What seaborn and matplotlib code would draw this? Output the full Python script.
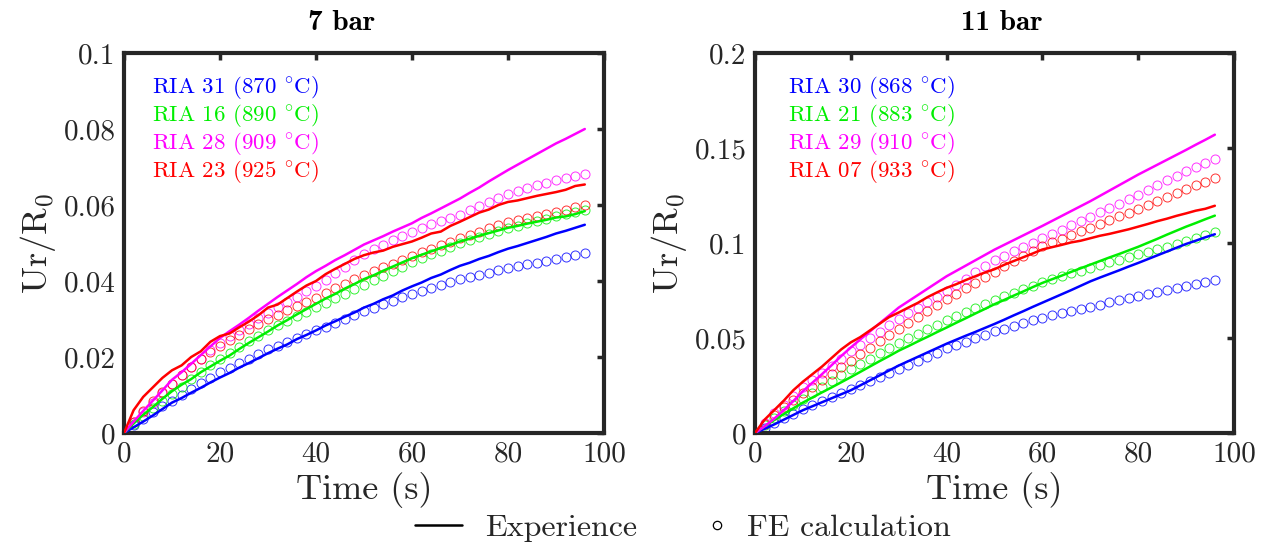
import matplotlib
matplotlib.use("Agg")
import matplotlib.pyplot as plt
from matplotlib.lines import Line2D
import seaborn as sns
import pandas as pd

# ---------------- data ----------------
time_s = [0, 2, 4, 6, 8, 10, 12, 14, 16, 18, 20, 22, 24, 26, 28, 30, 32, 34, 36, 38,
          40, 42, 44, 46, 48, 50, 52, 54, 56, 58, 60, 62, 64, 66, 68, 70, 72, 74, 76, 78,
          80, 82, 84, 86, 88, 90, 92, 94, 96]

colors = ["#0000ff", "#00ee00", "#ff00ff", "#ff0000"]

labels_7bar = ["RIA 31 (870 $^{\\circ}$C)", "RIA 16 (890 $^{\\circ}$C)",
               "RIA 28 (909 $^{\\circ}$C)", "RIA 23 (925 $^{\\circ}$C)"]
labels_11bar = ["RIA 30 (868 $^{\\circ}$C)", "RIA 21 (883 $^{\\circ}$C)",
                "RIA 29 (910 $^{\\circ}$C)", "RIA 07 (933 $^{\\circ}$C)"]

# 7 bar - experience (lines)
exp7_ria31 = [0, 0.0015, 0.0030, 0.0046, 0.0063, 0.0080, 0.0092, 0.0106, 0.0119, 0.0133, 0.0146,
              0.0158, 0.0172, 0.0184, 0.0197, 0.0210, 0.0222, 0.0233, 0.0247, 0.0258, 0.0270,
              0.0283, 0.0294, 0.0306, 0.0317, 0.0330, 0.0340, 0.0352, 0.0362, 0.0375, 0.0386,
              0.0396, 0.0408, 0.0417, 0.0429, 0.0440, 0.0448, 0.0458, 0.0466, 0.0476, 0.0485,
              0.0492, 0.0500, 0.0508, 0.0516, 0.0525, 0.0532, 0.0540, 0.0548]
exp7_ria16 = [0, 0.0025, 0.0048, 0.0068, 0.0090, 0.0110, 0.0127, 0.0142, 0.0160, 0.0175, 0.0190,
              0.0204, 0.0221, 0.0237, 0.0252, 0.0267, 0.0283, 0.0297, 0.0312, 0.0326, 0.0340,
              0.0354, 0.0366, 0.0380, 0.0392, 0.0405, 0.0415, 0.0427, 0.0438, 0.0449, 0.0460,
              0.0469, 0.0478, 0.0487, 0.0495, 0.0504, 0.0511, 0.0519, 0.0526, 0.0533, 0.0540,
              0.0545, 0.0551, 0.0556, 0.0561, 0.0567, 0.0570, 0.0576, 0.0584]
exp7_ria28 = [0, 0.0030, 0.0058, 0.0085, 0.0112, 0.0140, 0.0160, 0.0182, 0.0205, 0.0228, 0.0250,
              0.0268, 0.0285, 0.0303, 0.0322, 0.0340, 0.0358, 0.0375, 0.0392, 0.0410, 0.0426,
              0.0440, 0.0455, 0.0468, 0.0482, 0.0496, 0.0507, 0.0518, 0.0530, 0.0541, 0.0552,
              0.0566, 0.0578, 0.0591, 0.0604, 0.0617, 0.0632, 0.0646, 0.0662, 0.0677, 0.0692,
              0.0706, 0.0720, 0.0734, 0.0748, 0.0762, 0.0774, 0.0787, 0.0800]
exp7_ria23 = [0, 0.0060, 0.0095, 0.0120, 0.0145, 0.0165, 0.0178, 0.0200, 0.0215, 0.0240, 0.0255,
              0.0262, 0.0278, 0.0293, 0.0310, 0.0330, 0.0338, 0.0355, 0.0372, 0.0388, 0.0400,
              0.0418, 0.0432, 0.0445, 0.0458, 0.0468, 0.0475, 0.0480, 0.0490, 0.0497, 0.0504,
              0.0514, 0.0525, 0.0530, 0.0545, 0.0556, 0.0568, 0.0580, 0.0588, 0.0600, 0.0608,
              0.0612, 0.0618, 0.0624, 0.0629, 0.0634, 0.0640, 0.0650, 0.0654]

# 7 bar - FE calculation (circles)
fe7_ria31 = [0, 0.0020, 0.0038, 0.0054, 0.0070, 0.0085, 0.0101, 0.0117, 0.0132, 0.0146, 0.0160,
             0.0172, 0.0184, 0.0196, 0.0208, 0.0220, 0.0230, 0.0240, 0.0250, 0.0260, 0.0270,
             0.0280, 0.0290, 0.0300, 0.0310, 0.0320, 0.0329, 0.0339, 0.0348, 0.0357, 0.0366,
             0.0374, 0.0382, 0.0390, 0.0397, 0.0404, 0.0410, 0.0416, 0.0422, 0.0428, 0.0434,
             0.0439, 0.0444, 0.0448, 0.0453, 0.0457, 0.0462, 0.0468, 0.0473]
fe7_ria16 = [0, 0.0024, 0.0046, 0.0066, 0.0084, 0.0102, 0.0122, 0.0141, 0.0160, 0.0180, 0.0196,
             0.0211, 0.0226, 0.0241, 0.0256, 0.0270, 0.0283, 0.0295, 0.0307, 0.0319, 0.0331,
             0.0343, 0.0355, 0.0367, 0.0378, 0.0390, 0.0402, 0.0414, 0.0426, 0.0438, 0.0450,
             0.0460, 0.0470, 0.0480, 0.0490, 0.0500, 0.0508, 0.0516, 0.0524, 0.0532, 0.0540,
             0.0546, 0.0552, 0.0558, 0.0564, 0.0570, 0.0576, 0.0582, 0.0587]
fe7_ria28 = [0, 0.0028, 0.0055, 0.0080, 0.0105, 0.0130, 0.0152, 0.0175, 0.0196, 0.0218, 0.0238,
             0.0254, 0.0270, 0.0286, 0.0302, 0.0317, 0.0331, 0.0345, 0.0359, 0.0373, 0.0386,
             0.0403, 0.0420, 0.0437, 0.0454, 0.0470, 0.0483, 0.0496, 0.0508, 0.0519, 0.0530,
             0.0540, 0.0549, 0.0558, 0.0566, 0.0574, 0.0586, 0.0597, 0.0608, 0.0619, 0.0630,
             0.0638, 0.0645, 0.0652, 0.0659, 0.0666, 0.0671, 0.0677, 0.0682]
fe7_ria23 = [0, 0.0030, 0.0058, 0.0083, 0.0107, 0.0130, 0.0152, 0.0174, 0.0195, 0.0213, 0.0230,
             0.0245, 0.0259, 0.0273, 0.0287, 0.0300, 0.0311, 0.0323, 0.0334, 0.0345, 0.0356,
             0.0369, 0.0381, 0.0393, 0.0405, 0.0417, 0.0427, 0.0437, 0.0446, 0.0456, 0.0465,
             0.0475, 0.0484, 0.0494, 0.0503, 0.0513, 0.0522, 0.0530, 0.0539, 0.0547, 0.0556,
             0.0561, 0.0566, 0.0572, 0.0577, 0.0582, 0.0588, 0.0595, 0.0601]

# 11 bar - experience (lines)
exp11_ria30 = [0, 0.0022, 0.0045, 0.0070, 0.0095, 0.0120, 0.0141, 0.0162, 0.0183, 0.0204, 0.0225,
               0.0251, 0.0277, 0.0303, 0.0329, 0.0355, 0.0378, 0.0401, 0.0424, 0.0447, 0.0470,
               0.0491, 0.0512, 0.0532, 0.0553, 0.0574, 0.0596, 0.0619, 0.0641, 0.0664, 0.0686,
               0.0708, 0.0730, 0.0752, 0.0775, 0.0798, 0.0818, 0.0837, 0.0856, 0.0876, 0.0895,
               0.0915, 0.0935, 0.0955, 0.0975, 0.0995, 0.1012, 0.1030, 0.1046]
exp11_ria21 = [0, 0.0035, 0.0068, 0.0100, 0.0130, 0.0160, 0.0187, 0.0214, 0.0240, 0.0267, 0.0294,
               0.0322, 0.0350, 0.0378, 0.0405, 0.0433, 0.0457, 0.0482, 0.0506, 0.0531, 0.0555,
               0.0580, 0.0604, 0.0629, 0.0653, 0.0678, 0.0700, 0.0723, 0.0745, 0.0768, 0.0790,
               0.0809, 0.0828, 0.0848, 0.0867, 0.0886, 0.0905, 0.0924, 0.0942, 0.0961, 0.0980,
               0.1001, 0.1022, 0.1044, 0.1065, 0.1086, 0.1105, 0.1125, 0.1144]
exp11_ria29 = [0, 0.0035, 0.0075, 0.0120, 0.0168, 0.0220, 0.0265, 0.0310, 0.0357, 0.0405, 0.0450,
               0.0493, 0.0535, 0.0577, 0.0618, 0.0660, 0.0693, 0.0726, 0.0759, 0.0792, 0.0825,
               0.0853, 0.0881, 0.0909, 0.0937, 0.0965, 0.0990, 0.1015, 0.1040, 0.1065, 0.1090,
               0.1116, 0.1142, 0.1168, 0.1194, 0.1220, 0.1248, 0.1276, 0.1304, 0.1332, 0.1360,
               0.1386, 0.1412, 0.1438, 0.1464, 0.1490, 0.1517, 0.1543, 0.1570]
exp11_ria07 = [0, 0.0070, 0.0120, 0.0170, 0.0225, 0.0270, 0.0310, 0.0350, 0.0395, 0.0440, 0.0477,
               0.0505, 0.0540, 0.0575, 0.0610, 0.0634, 0.0660, 0.0685, 0.0715, 0.0740, 0.0764,
               0.0783, 0.0805, 0.0825, 0.0845, 0.0862, 0.0885, 0.0905, 0.0925, 0.0945, 0.0966,
               0.0978, 0.0990, 0.1003, 0.1012, 0.1025, 0.1038, 0.1048, 0.1060, 0.1072, 0.1086,
               0.1100, 0.1115, 0.1128, 0.1143, 0.1156, 0.1170, 0.1180, 0.1196]

# 11 bar - FE calculation (circles)
fe11_ria30 = [0, 0.0028, 0.0055, 0.0079, 0.0102, 0.0125, 0.0146, 0.0167, 0.0188, 0.0209, 0.0230,
              0.0251, 0.0272, 0.0293, 0.0314, 0.0335, 0.0357, 0.0379, 0.0401, 0.0423, 0.0445,
              0.0463, 0.0481, 0.0499, 0.0517, 0.0535, 0.0550, 0.0564, 0.0579, 0.0593, 0.0607,
              0.0619, 0.0630, 0.0642, 0.0653, 0.0665, 0.0676, 0.0687, 0.0698, 0.0709, 0.0720,
              0.0730, 0.0741, 0.0751, 0.0762, 0.0772, 0.0783, 0.0794, 0.0805]
fe11_ria21 = [0, 0.0042, 0.0080, 0.0115, 0.0148, 0.0180, 0.0212, 0.0243, 0.0274, 0.0305, 0.0335,
              0.0363, 0.0391, 0.0419, 0.0447, 0.0475, 0.0499, 0.0523, 0.0547, 0.0571, 0.0595,
              0.0616, 0.0637, 0.0658, 0.0679, 0.0700, 0.0719, 0.0738, 0.0757, 0.0776, 0.0795,
              0.0810, 0.0825, 0.0840, 0.0855, 0.0870, 0.0884, 0.0898, 0.0912, 0.0926, 0.0940,
              0.0954, 0.0967, 0.0981, 0.0994, 0.1008, 0.1024, 0.1041, 0.1057]
fe11_ria29 = [0, 0.0055, 0.0105, 0.0150, 0.0195, 0.0240, 0.0278, 0.0316, 0.0354, 0.0392, 0.0430,
              0.0464, 0.0498, 0.0532, 0.0566, 0.0600, 0.0629, 0.0659, 0.0688, 0.0718, 0.0747,
              0.0780, 0.0812, 0.0845, 0.0877, 0.0910, 0.0933, 0.0956, 0.0979, 0.1002, 0.1025,
              0.1048, 0.1070, 0.1093, 0.1115, 0.1138, 0.1161, 0.1184, 0.1207, 0.1230, 0.1253,
              0.1278, 0.1304, 0.1329, 0.1355, 0.1380, 0.1400, 0.1420, 0.1440]
fe11_ria07 = [0, 0.0050, 0.0095, 0.0135, 0.0173, 0.0210, 0.0244, 0.0278, 0.0312, 0.0346, 0.0380,
              0.0414, 0.0448, 0.0482, 0.0516, 0.0550, 0.0581, 0.0612, 0.0642, 0.0673, 0.0704,
              0.0733, 0.0762, 0.0792, 0.0821, 0.0850, 0.0877, 0.0904, 0.0931, 0.0958, 0.0985,
              0.1004, 0.1023, 0.1042, 0.1061, 0.1080, 0.1100, 0.1120, 0.1140, 0.1160, 0.1180,
              0.1201, 0.1222, 0.1243, 0.1264, 0.1285, 0.1303, 0.1322, 0.1340]

titles = ["7 bar", "11 bar"]
x_ticks = [0, 20, 40, 60, 80, 100]
y_ticks_7 = [0, 0.02, 0.04, 0.06, 0.08, 0.1]
y_ticklabels_7 = ["0", "0.02", "0.04", "0.06", "0.08", "0.1"]
y_ticks_11 = [0, 0.05, 0.1, 0.15, 0.2]
y_ticklabels_11 = ["0", "0.05", "0.1", "0.15", "0.2"]
legend_labels = ["Experience", "FE calculation"]

# ---------------- style ----------------
sns.set_theme(style="white")
plt.rcParams["font.family"] = ["cmr10", "DejaVu Serif"]
plt.rcParams["mathtext.fontset"] = "cm"
plt.rcParams["axes.unicode_minus"] = False
plt.rcParams["axes.formatter.use_mathtext"] = True

frame_col = "#262626"

fig = plt.figure(figsize=(12.63, 5.42), dpi=100)
W, H = 1263, 542
ax1 = fig.add_axes([124 / W, (H - 433) / H, 480 / W, 380 / H])
ax2 = fig.add_axes([755 / W, (H - 433) / H, 479 / W, 380 / H])

panels = [
    (ax1, [exp7_ria31, exp7_ria16, exp7_ria28, exp7_ria23],
     [fe7_ria31, fe7_ria16, fe7_ria28, fe7_ria23], labels_7bar,
     y_ticks_7, y_ticklabels_7, 0.1, titles[0], 0.454, 0.058),
    (ax2, [exp11_ria30, exp11_ria21, exp11_ria29, exp11_ria07],
     [fe11_ria30, fe11_ria21, fe11_ria29, fe11_ria07], labels_11bar,
     y_ticks_11, y_ticklabels_11, 0.2, titles[1], 0.516, 0.069),
]

for ax, exps, fes, labs, yt, ytl, ymax, title, tx, lx in panels:
    for k in range(4):
        df_fe = pd.DataFrame({"t": time_s, "v": fes[k]})
        sns.lineplot(data=df_fe, x="t", y="v", ax=ax, color=colors[k], linestyle="",
                     marker="o", markersize=6.5, markerfacecolor="none",
                     markeredgecolor=colors[k], markeredgewidth=0.7, alpha=0.8,
                     legend=False, zorder=2)
    for k in range(4):
        df_exp = pd.DataFrame({"t": time_s, "v": exps[k]})
        sns.lineplot(data=df_exp, x="t", y="v", ax=ax, color=colors[k], linewidth=1.8,
                     legend=False, zorder=3)
    ax.set_xlim(0, 100)
    ax.set_ylim(0, ymax)
    ax.set_xticks(x_ticks)
    ax.set_xticklabels([str(v) for v in x_ticks])
    ax.set_yticks(yt)
    ax.set_yticklabels(ytl)
    ax.tick_params(axis="both", which="both", direction="in", length=5, width=2.5,
                   top=True, right=True, color=frame_col, labelcolor=frame_col,
                   labelsize=21, pad=6)
    for s in ax.spines.values():
        s.set_visible(True)
        s.set_linewidth(3)
        s.set_color(frame_col)
    ax.set_xlabel("Time (s)", fontsize=26, color=frame_col, labelpad=3)
    ax.set_ylabel("Ur/R$_0$", fontsize=26, color=frame_col, labelpad=4)
    ax.text(tx, 1.0605, title, transform=ax.transAxes, ha="center", va="baseline",
            fontsize=21, fontfamily="cmb10", color="black")
    for k in range(4):
        ax.text(lx, 0.908 - k * 0.0737, labs[k], transform=ax.transAxes,
                ha="left", va="center", fontsize=16.5, color=colors[k])
    ax.grid(False)

h_line = Line2D([0], [0], color="black", linewidth=1.8)
h_circ = Line2D([0], [0], color="black", linestyle="", marker="o",
                markerfacecolor="none", markersize=6, markeredgewidth=0.9)
fig.legend([h_line], [legend_labels[0]], loc="center left",
           bbox_to_anchor=(415 / W, 14 / H), frameon=False, fontsize=23,
           handlelength=1.47, handletextpad=0.72, borderpad=0, borderaxespad=0)
fig.legend([h_circ], [legend_labels[1]], loc="center left",
           bbox_to_anchor=(709 / W, 14 / H), frameon=False, fontsize=23,
           handlelength=0.5, handletextpad=0.7, borderpad=0, borderaxespad=0)

fig.savefig("out.png", dpi=100)
